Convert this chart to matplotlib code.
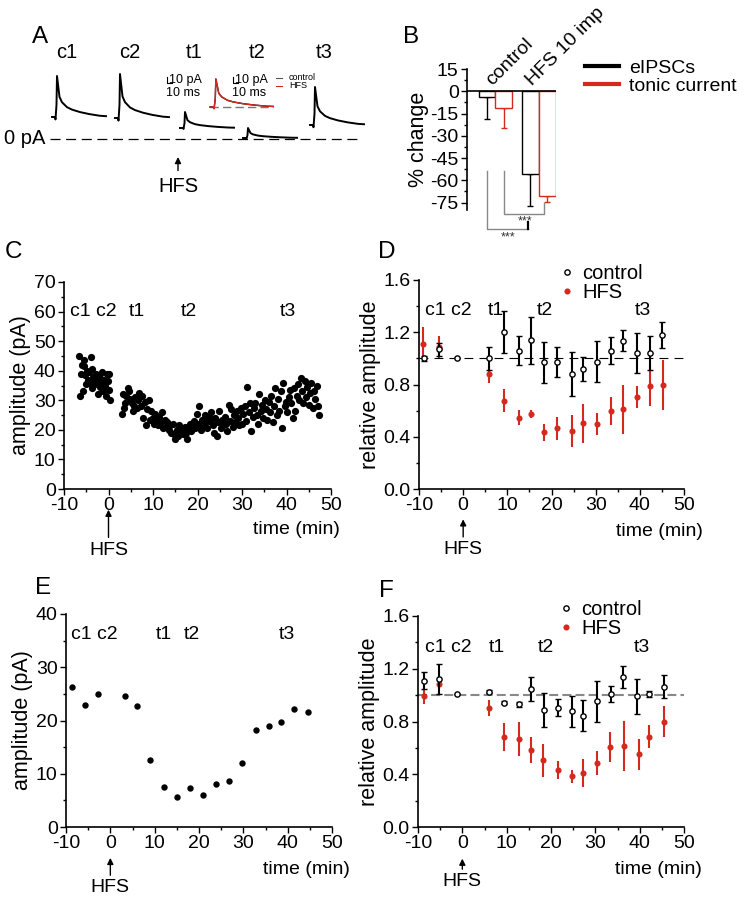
import numpy as np
import matplotlib as mpl
mpl.rcParams['font.family'] = ['Liberation Sans', 'DejaVu Sans']
mpl.rcParams['font.size'] = 14.
mpl.rcParams['axes.unicode_minus'] = False
from matplotlib import pyplot as plt
from matplotlib.ticker import MultipleLocator
from matplotlib.lines import Line2D

RED = '#d42a1e'

# ---- A: example eIPSC sweeps
sweep_names = ['c1', 'c2', 't1', 't2', 't3']
holding_pA = [44, 42, 22, 2, 28]
peak_pA = [82, 88, 32, 20, 76]
shape_t = [0, 6, 7, 9, 10, 15, 20, 30, 40, 56, 75, 96, 108]
shape_y = [0, 0, -0.06, 0.3, 1.0, 0.49, 0.36, 0.24, 0.18, 0.12, 0.07, 0.03, 0.02]

# ---- B: % change
groups = ['control', 'HFS 10 imp']
eipsc_change = [-4, -56]
eipsc_err = [15, 21]
tonic_change = [-11, -70.5]
tonic_err = [14, 4]

# ---- C: single cell eIPSC amplitude
c_time = [-6.6, -6.4, -6.2, -6.0, -5.8, -5.6, -5.4, -5.2, -5.0, -4.8, -4.6, -4.4, -4.2, -4.0,
          -3.8, -3.6, -3.4, -3.2, -3.0, -2.8, -2.6, -2.4, -2.2, -2.0, -1.8, -1.6, -1.4, -1.2,
          -1.0, -0.8, -0.6, -0.4, -0.2, 0.0, 0.2, 0.4,
          3.0, 3.2, 3.5, 3.8, 4.0, 4.3, 4.6, 4.9, 5.2, 5.5, 5.8, 6.0, 6.3, 6.6, 6.9, 7.2, 7.5,
          7.8, 8.1, 8.4, 8.7, 9.0, 9.3,
          9.6, 9.9, 10.2, 10.5, 10.8, 11.1, 11.4, 11.7, 12.0, 12.3, 12.6, 12.9, 13.2, 13.5,
          13.8, 14.1, 14.4, 14.7, 15.0,
          15.3, 15.6, 15.9, 16.2, 16.5, 16.8, 17.1, 17.4, 17.7, 18.0, 18.3, 18.6, 18.9, 19.2,
          19.5, 19.8, 20.1, 20.4,
          20.7, 21.0, 21.3, 21.6, 21.9, 22.2, 22.5, 22.8, 23.1, 23.4, 23.7, 24.0, 24.3, 24.6,
          24.9, 25.2, 25.5, 25.8, 26.1, 26.4, 26.7, 27.0, 27.3, 27.6, 27.9, 28.2, 28.5, 28.8,
          29.1, 29.4, 29.7, 30.0,
          30.3, 30.6, 30.9, 31.2, 31.5, 31.8, 32.1, 32.4, 32.7, 33.0, 33.3, 33.6, 33.9, 34.2,
          34.5, 34.8, 35.1, 35.4, 35.7, 36.0, 36.3, 36.6, 36.9, 37.2, 37.5, 37.8, 38.1, 38.4,
          38.7, 39.0, 39.3, 39.6, 39.9,
          40.2, 40.5, 40.8, 41.1, 41.4, 41.7, 42.0, 42.3, 42.6, 42.9, 43.2, 43.5, 43.8, 44.1,
          44.4, 44.7, 45.0, 45.3, 45.6, 45.9, 46.2, 46.5, 46.8, 47.1, 47.4]
c_amp = [45.0, 31.5, 39.0, 42.0, 33.0, 41.5, 43.5, 38.5, 35.5, 40.0, 37.0, 39.5, 36.0, 44.5,
         34.0, 40.5, 38.0, 37.0, 35.5, 39.0, 36.5, 32.0, 38.5, 37.5, 34.5, 36.0, 39.5, 33.0,
         37.0, 35.0, 31.5, 39.0, 36.5, 33.5, 39.0, 30.0,
         25.5, 32.0, 27.5, 29.0, 31.5, 34.0, 33.0, 30.5, 29.0, 26.5, 28.0, 31.0, 27.5, 30.0,
         32.5, 28.0, 31.5, 24.0, 29.5, 21.5, 27.0, 30.0, 23.5,
         26.5, 24.0, 22.0, 25.5, 23.0, 21.5, 24.5, 22.5, 26.0, 20.5, 23.5, 21.0, 22.5, 20.0,
         21.5, 19.0, 22.0, 18.5, 17.0,
         20.0, 18.0, 21.5, 19.5, 20.5, 18.5, 21.0, 19.0, 17.0, 20.0, 22.0, 19.5, 21.5, 23.0,
         20.5, 25.5, 22.0, 28.0,
         20.0, 23.5, 21.0, 25.0, 22.5, 20.5, 24.5, 23.0, 26.0, 21.5, 19.0, 24.0, 18.0, 22.5,
         26.5, 20.5, 23.5, 21.5, 24.5, 22.0, 19.5, 28.5, 23.0, 27.0, 21.0, 25.0, 22.5, 26.5,
         24.0, 21.5, 27.5, 22.0,
         25.5, 28.0, 23.0, 34.5, 26.0, 29.0, 19.5, 24.5, 27.5, 29.0, 25.0, 22.0, 32.0, 26.5,
         28.5, 24.0, 30.0, 27.0, 23.5, 29.5, 26.0, 31.5, 22.5, 28.0, 34.0, 25.0, 30.5, 26.5,
         33.0, 20.5, 36.0, 28.0, 29.5,
         26.0, 31.0, 33.5, 29.0, 24.0, 34.0, 26.5, 31.5, 35.5, 30.0, 37.5, 33.0, 29.0, 36.5,
         31.0, 34.5, 28.5, 32.5, 36.0, 27.5, 33.0, 30.5, 35.0, 28.0, 25.0]

# ---- D: relative eIPSC amplitude
d_ctrl_t = [-8.9, -5.5, -1.5, 5.8, 9.3, 12.6, 15.3, 18.2, 21.3, 24.6, 27.2, 30.4, 33.4, 36.1, 39.3, 42.3, 45.1]
d_ctrl = [1.00, 1.07, 1.00, 1.00, 1.20, 1.06, 1.14, 0.97, 0.97, 0.88, 0.92, 0.975, 1.06, 1.135, 1.04, 1.04, 1.18]
d_ctrl_err = [0.02, 0.05, 0.0, 0.09, 0.16, 0.11, 0.18, 0.155, 0.115, 0.165, 0.09, 0.155, 0.105, 0.08, 0.155, 0.13, 0.10]
d_hfs_t = [-9.0, -5.5, 5.8, 9.3, 12.6, 15.3, 18.2, 21.3, 24.6, 27.2, 30.4, 33.4, 36.3, 39.4, 42.3, 45.3]
d_hfs = [1.11, 1.09, 0.88, 0.676, 0.546, 0.574, 0.434, 0.464, 0.444, 0.503, 0.498, 0.597, 0.61, 0.704, 0.789, 0.796]
d_hfs_err = [0.13, 0.085, 0.065, 0.088, 0.055, 0.03, 0.065, 0.09, 0.12, 0.15, 0.087, 0.106, 0.19, 0.087, 0.15, 0.19]

# ---- E: single cell tonic current
e_time = [-8.65, -5.65, -2.8, 3.2, 6.1, 9.05, 12.05, 15.05, 18.0, 20.9, 23.8, 26.8, 29.75, 32.75, 35.7, 38.6, 41.5, 44.5]
e_amp = [26.3, 22.9, 25.0, 24.6, 22.7, 12.6, 7.6, 5.7, 7.4, 6.1, 8.0, 8.7, 12.1, 18.3, 19.0, 19.8, 22.2, 21.6]

# ---- F: relative tonic current
f_ctrl_t = [-8.7, -5.2, -1.2, 6.05, 9.5, 12.7, 15.6, 18.5, 21.5, 24.7, 27.2, 30.4, 33.5, 36.2, 39.3, 42.2, 45.4]
f_ctrl = [1.11, 1.12, 1.007, 1.027, 0.944, 0.93, 1.045, 0.888, 0.906, 0.876, 0.845, 0.954, 1.007, 1.136, 0.99, 1.01, 1.065]
f_ctrl_err = [0.062, 0.115, 0.0, 0.012, 0.012, 0.02, 0.09, 0.13, 0.065, 0.12, 0.115, 0.155, 0.062, 0.082, 0.13, 0.025, 0.085]
f_hfs_t = [-8.6, -5.2, 6.05, 9.5, 12.7, 15.6, 18.2, 21.5, 24.7, 27.2, 30.4, 33.4, 36.4, 39.8, 42.2, 45.4]
f_hfs = [0.99, 1.085, 0.90, 0.68, 0.669, 0.585, 0.505, 0.434, 0.384, 0.41, 0.485, 0.606, 0.616, 0.553, 0.686, 0.80]
f_hfs_err = [0.055, 0.03, 0.06, 0.107, 0.127, 0.10, 0.126, 0.07, 0.05, 0.105, 0.09, 0.114, 0.19, 0.118, 0.09, 0.12]

W, H = 749., 901.
fig = plt.figure(figsize=(W/100, H/100), dpi=100)

def rect(l, t, r, b):
    return [l/W, 1-b/H, (r-l)/W, (b-t)/H]

def time_axes(ax, ymax, ystep, yminor, ylabel):
    ax.set_xlim(-10, 50)
    ax.set_ylim(0, ymax)
    ax.xaxis.set_major_locator(MultipleLocator(10))
    ax.xaxis.set_minor_locator(MultipleLocator(5))
    ax.yaxis.set_major_locator(MultipleLocator(ystep))
    ax.yaxis.set_minor_locator(MultipleLocator(yminor))
    ax.spines['top'].set_visible(False)
    ax.spines['right'].set_visible(False)
    for s in ['left', 'bottom']:
        ax.spines[s].set_linewidth(1.2)
    ax.tick_params(which='both', direction='out', width=1, labelsize=14)
    ax.tick_params(which='major', length=4, pad=2)
    ax.tick_params(which='minor', length=2.5)
    ax.set_ylabel(ylabel, fontsize=15.5, labelpad=2)
    ax.set_xlabel('time (min)', fontsize=14, loc='right')

def hfs_arrow(ax, tip, texty):
    ax.annotate('HFS', xy=(0, tip), xycoords=('data', 'axes fraction'),
                xytext=(0, texty), textcoords=('data', 'axes fraction'),
                ha='center', va='center', fontsize=14,
                arrowprops=dict(arrowstyle='-|>', color='k', lw=1, shrinkA=1, shrinkB=0,
                                mutation_scale=9))

# ---- A
axA = fig.add_axes(rect(0, 0, 370, 210))
axA.set_xlim(0, 740)
axA.set_ylim(-142, 278)
axA.axis('off')
sweep_x0 = [104, 230, 360, 486, 620]
for name, x0, hold, amp in zip(sweep_names, sweep_x0, holding_pA, peak_pA):
    axA.plot(x0 + np.array(shape_t), hold + amp*np.array(shape_y), color='k', lw=1.4)
    axA.text(x0 + 29, 172, name, ha='center', va='center', fontsize=14.5)
axA.plot([100, 714], [0, 0], color='k', lw=0.9, dashes=(8, 4.5))
axA.text(90, 0, '0 pA', ha='right', va='center', fontsize=14.5)
# inset overlay
axA.plot([420, 546], [64, 64], color='#777777', lw=1, dashes=(6, 3))
axA.plot(420 + 1.17*np.array(shape_t), 64 + 56*np.array(shape_y), color='k', lw=1)
axA.plot(420 + 1.17*np.array(shape_t), 64 + 56*np.array(shape_y), color=RED, lw=1)
axA.plot([552, 564], [122, 122], color='#555555', lw=0.8)
axA.plot([552, 564], [106, 106], color=RED, lw=0.8)
axA.text(578, 123, 'control', fontsize=6.5, va='center')
axA.text(578, 107, 'HFS', fontsize=6.5, va='center')
# scale bars
for xb in [334, 466]:
    axA.plot([xb, xb, xb + 10], [124, 112, 112], color='k', lw=0.8)
    axA.text(xb + 4, 118, '10 pA', fontsize=9, va='center', ha='left')
    axA.text(xb + 32, 92, '10 ms', fontsize=9, va='center', ha='center')
axA.annotate('HFS', xy=(356, -36), xytext=(356, -96), ha='center', va='center', fontsize=14.5,
             arrowprops=dict(arrowstyle='-|>', color='k', lw=1, shrinkA=3, shrinkB=0,
                             mutation_scale=9))

# ---- B
axB = fig.add_axes(rect(467, 69, 555.5, 210))
axB.set_xlim(0, 5.3)
axB.set_ylim(-80, 15)
pos_e = [1.2, 3.8]
pos_t = [2.2, 4.8]
axB.bar(pos_e, eipsc_change, width=1.0, facecolor='white', edgecolor='k', lw=1, zorder=2)
axB.bar(pos_t, tonic_change, width=1.0, facecolor='white', edgecolor=RED, lw=1, zorder=2)
axB.errorbar(pos_e, eipsc_change, yerr=[eipsc_err, [0, 0]], fmt='none', ecolor='k',
             elinewidth=1, capsize=2, zorder=1)
axB.errorbar(pos_t, tonic_change, yerr=[tonic_err, [0, 0]], fmt='none', ecolor=RED,
             elinewidth=1, capsize=2, zorder=1)
axB.axhline(0, color='k', lw=1.2, zorder=3)
for s in ['top', 'right', 'bottom']:
    axB.spines[s].set_visible(False)
axB.spines['left'].set_linewidth(1.2)
axB.set_xticks([])
axB.yaxis.set_major_locator(MultipleLocator(15))
axB.yaxis.set_minor_locator(MultipleLocator(7.5))
axB.tick_params(which='both', direction='out', width=1, labelsize=14)
axB.tick_params(which='major', length=4, pad=2)
axB.tick_params(which='minor', length=2.5)
axB.set_ylabel('% change', fontsize=15.5, labelpad=1)
for xg, g in zip([1.5, 3.9], groups):
    axB.text(xg, 3.6, g, rotation=45, rotation_mode='anchor', ha='left', va='baseline',
             fontsize=14, clip_on=False)
# significance brackets
axB.plot([1.2, 1.2, 3.65], [-54, -93, -93], color='#888888', lw=1, clip_on=False)
axB.plot([3.65, 3.65], [-93, -88.4], color='k', lw=1.6, clip_on=False)
axB.text(2.45, -98.5, '***', ha='center', va='center', fontsize=9, color='#333333')
axB.plot([2.2, 2.2, 4.6, 4.6], [-54, -83, -83, -75.5], color='#888888', lw=1, clip_on=False)
axB.text(3.45, -88, '***', ha='center', va='center', fontsize=9, color='#333333')
fig.legend([Line2D([], [], color='k', lw=3), Line2D([], [], color=RED, lw=3)],
           ['eIPSCs', 'tonic current'], loc='center left',
           bbox_to_anchor=(585/W, 1-77/H), frameon=False, fontsize=14,
           handlelength=1.75, handletextpad=0.5, labelspacing=0.0,
           borderpad=0, borderaxespad=0)

# ---- C
axC = fig.add_axes(rect(64, 282, 331, 489))
axC.plot(c_time, c_amp, 'o', color='k', ms=5.2, mew=0)
time_axes(axC, 70, 10, 5, 'amplitude (pA)')
axC.xaxis.set_label_coords(1.034, -0.155)
axC.text(-8.7, 60, 'c1 c2', ha='left', va='center', fontsize=14)
for xl, lab in zip([6.4, 18.1, 40.2], ['t1', 't2', 't3']):
    axC.text(xl, 60, lab, ha='center', va='center', fontsize=14)
hfs_arrow(axC, -0.10, -0.295)

# ---- D
def rel_panel(ax, ct, cy, ce, ht, hy, he, dash_color, dash_lw, dashes):
    ax.axhline(1.0, color=dash_color, lw=dash_lw, dashes=dashes, zorder=1)
    ax.errorbar(ht, hy, yerr=he, fmt='o', color=RED, ecolor=RED, ms=4.4, mew=0,
                elinewidth=1.5, capsize=2, capthick=1.2, zorder=2)
    ax.errorbar(ct, cy, yerr=ce, fmt='o', color='k', mfc='white', ms=3.8, mew=1,
                elinewidth=1.5, capsize=2, capthick=1.2, zorder=3)
    time_axes(ax, 1.6, 0.4, 0.2, 'relative amplitude')
    ax.yaxis.set_major_formatter(mpl.ticker.FormatStrFormatter('%.1f'))
    ax.legend([Line2D([], [], ls='none', marker='o', color='k', mfc='white', ms=3.8, mew=1),
               Line2D([], [], ls='none', marker='o', color=RED, ms=4.4, mew=0)],
              ['control', 'HFS'], loc='center left', bbox_to_anchor=(0.535, 0.985),
              frameon=False, fontsize=14.5, handlelength=0.6, handletextpad=0.45,
              labelspacing=0.0, borderpad=0, borderaxespad=0)

axD = fig.add_axes(rect(419, 280, 684, 489))
rel_panel(axD, d_ctrl_t, d_ctrl, d_ctrl_err, d_hfs_t, d_hfs, d_hfs_err, 'k', 0.8, (8, 5.5))
axD.xaxis.set_label_coords(1.072, -0.163)
axD.text(-8.6, 1.363, 'c1 c2', ha='left', va='center', fontsize=14)
for xl, lab in zip([7.3, 18.6, 40.7], ['t1', 't2', 't3']):
    axD.text(xl, 1.363, lab, ha='center', va='center', fontsize=14)
hfs_arrow(axD, -0.145, -0.29)

# ---- E
axE = fig.add_axes(rect(66, 614, 332, 827))
axE.plot(e_time, e_amp, 'o', color='k', ms=4.6, mew=0)
time_axes(axE, 40, 10, 5, 'amplitude (pA)')
axE.xaxis.set_label_coords(1.068, -0.16)
axE.text(-8.8, 36.1, 'c1 c2', ha='left', va='center', fontsize=14)
for xl, lab in zip([12.0, 18.4, 39.9], ['t1', 't2', 't3']):
    axE.text(xl, 36.1, lab, ha='center', va='center', fontsize=14)
hfs_arrow(axE, -0.145, -0.286)

# ---- F
axF = fig.add_axes(rect(418, 616, 684, 827))
rel_panel(axF, f_ctrl_t, f_ctrl, f_ctrl_err, f_hfs_t, f_hfs, f_hfs_err, '#888888', 1.5, (4.3, 2))
axF.xaxis.set_label_coords(1.068, -0.161)
axF.text(-8.35, 1.363, 'c1 c2', ha='left', va='center', fontsize=14)
for xl, lab in zip([7.8, 18.8, 40.6], ['t1', 't2', 't3']):
    axF.text(xl, 1.363, lab, ha='center', va='center', fontsize=14)
hfs_arrow(axF, -0.15, -0.26)

# panel letters
for lab, px, py in [('A', 40, 37), ('B', 411, 37), ('C', 13, 252), ('D', 387, 252),
                    ('E', 43, 588), ('F', 386, 591)]:
    fig.text(px/W, 1-py/H, lab, fontsize=17.5, ha='center', va='center')

plt.savefig('out.png', dpi=100)
